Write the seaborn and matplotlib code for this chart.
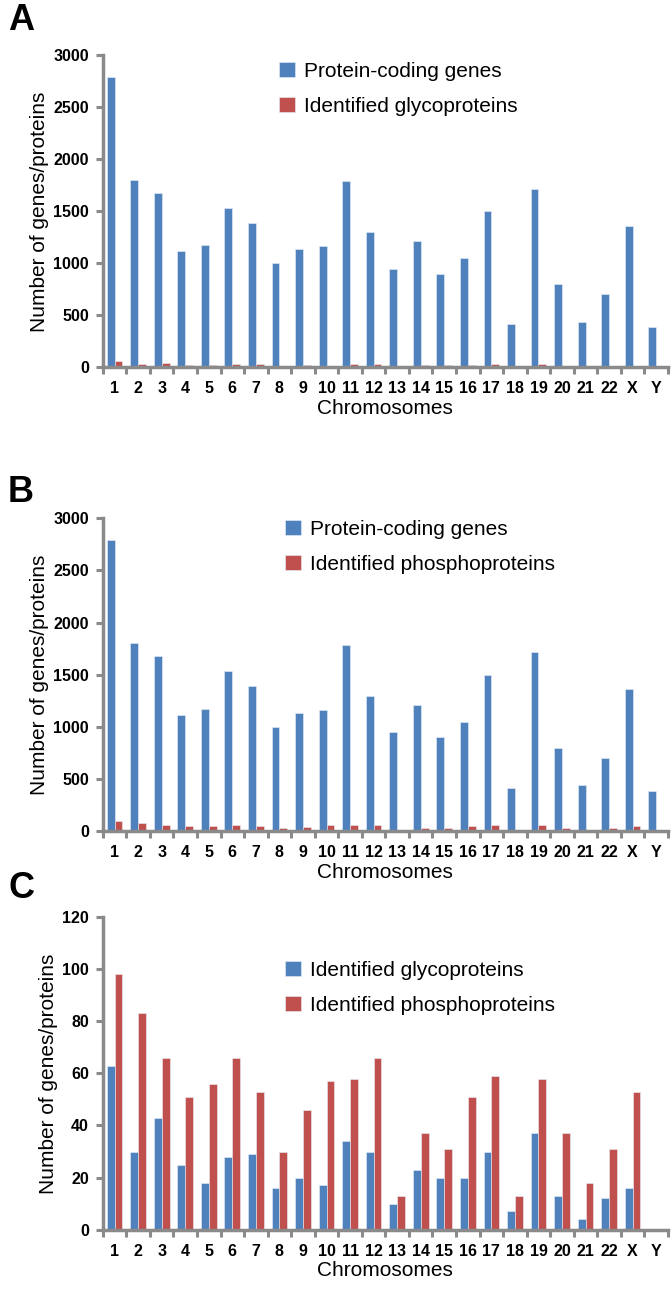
import pandas as pd
import matplotlib.pyplot as plt
import seaborn as sns

chromosomes = [str(i) for i in range(1, 23)] + ['X', 'Y']
protein_coding = [2790, 1800, 1680, 1115, 1175, 1535, 1390, 1000, 1135, 1165, 1790, 1300,
                  950, 1215, 900, 1050, 1500, 420, 1715, 800, 440, 705, 1360, 390]
glyco = [63, 30, 43, 25, 18, 28, 29, 16, 20, 17, 34, 30,
         10, 23, 20, 20, 30, 7, 37, 13, 4, 12, 16, 0]
phospho = [98, 83, 66, 51, 56, 66, 53, 30, 46, 57, 58, 66,
           13, 37, 31, 51, 59, 13, 58, 37, 18, 31, 53, 0]

BLUE = '#4F81BD'
RED = '#C0504D'
GREY = '#8a8a8a'


def long_df(name1, vals1, name2, vals2):
    a = pd.DataFrame({'chrom': chromosomes, 'value': vals1, 'series': name1})
    b = pd.DataFrame({'chrom': chromosomes, 'value': vals2, 'series': name2})
    return pd.concat([a, b], ignore_index=True)


def panel(ax, df, ymax, ystep, letter, letter_y, leg_anchor):
    sns.barplot(data=df, x='chrom', y='value', hue='series', order=chromosomes,
                palette=[BLUE, RED], saturation=1, width=0.667, ax=ax,
                edgecolor='#e8eef7', linewidth=0.4, errorbar=None)
    ax.set_xlim(-0.5, len(chromosomes) - 0.5)
    ax.set_ylim(0, ymax)
    ax.set_yticks(range(0, ymax + 1, ystep))
    ax.set_xticks(range(len(chromosomes)))
    ax.set_xticklabels(chromosomes)
    ax.set_xticks([i + 0.5 for i in range(-1, len(chromosomes))], minor=True)
    ax.tick_params(axis='x', which='major', bottom=False, length=0, pad=10, labelsize=11.5)
    ax.tick_params(axis='x', which='minor', bottom=True, length=5, width=2.2,
                   color=GREY, direction='out')
    ax.tick_params(axis='y', left=True, length=5, width=2.2, color=GREY, labelsize=11.5, pad=5)
    for lab in ax.get_xticklabels() + ax.get_yticklabels():
        lab.set_fontweight('bold')
        lab.set_family(['Liberation Sans Narrow', 'Liberation Sans', 'DejaVu Sans'])
    for s in ['top', 'right']:
        ax.spines[s].set_visible(False)
    for s in ['left', 'bottom']:
        ax.spines[s].set_color(GREY)
        ax.spines[s].set_linewidth(2.5)
    ax.set_xlabel('Chromosomes', fontsize=15, labelpad=2)
    ax.set_ylabel('Number of genes/proteins', fontsize=15, labelpad=3)
    ax.legend(loc='upper left', bbox_to_anchor=leg_anchor, frameon=False, fontsize=15,
              handlelength=0.75, handleheight=0.75, handletextpad=0.45, labelspacing=0.78)
    ax.figure.text(0.012, letter_y, letter, fontsize=26, fontweight='bold', va='center')


sns.set_theme(style='white')
plt.rcParams['font.family'] = ['Liberation Sans', 'DejaVu Sans']
plt.rcParams['text.color'] = 'black'
plt.rcParams['axes.labelcolor'] = 'black'
plt.rcParams['xtick.color'] = 'black'
plt.rcParams['ytick.color'] = 'black'

fig = plt.figure(figsize=(6.72, 12.89), dpi=100)
ax_a = fig.add_axes([0.153, 0.715, 0.841, 0.242])
ax_b = fig.add_axes([0.153, 0.355, 0.841, 0.243])
ax_c = fig.add_axes([0.153, 0.046, 0.841, 0.2426])

panel(ax_a, long_df('Protein-coding genes', protein_coding, 'Identified glycoproteins', glyco),
      3000, 500, 'A', 0.984, (0.279, 1.04))
panel(ax_b, long_df('Protein-coding genes', protein_coding, 'Identified phosphoproteins', phospho),
      3000, 500, 'B', 0.618, (0.289, 1.055))
panel(ax_c, long_df('Identified glycoproteins', glyco, 'Identified phosphoproteins', phospho),
      120, 20, 'C', 0.311, (0.289, 0.92))

fig.savefig('out.png', dpi=100)
